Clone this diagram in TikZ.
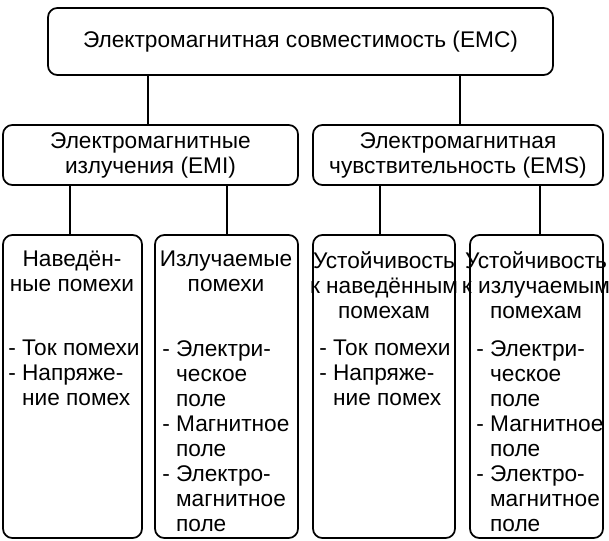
\documentclass[tikz,border=0pt]{standalone}
\usepackage{fontspec}
\setmainfont{Liberation Sans}
\begin{document}
\begin{tikzpicture}[x=0.75pt,y=-0.75pt,
  bx/.style={draw,line width=1.3pt,rounded corners=7pt},
  tx/.style={font=\fontsize{17}{18.8}\selectfont,inner sep=0pt},
  ln/.style={line width=0.8pt}]
\useasboundingbox (0,0) rectangle (609,541);
\node[bx,minimum width=505*0.75pt,minimum height=67*0.75pt] (top) at (300.5,41.5) {};
\node[tx] at (top) {Электромагнитная совместимость (EMC)};
\node[bx,minimum width=295*0.75pt,minimum height=60*0.75pt] (emi) at (150.5,155) {};
\node[tx,align=center] at (emi) {Электромагнитные\\излучения (EMI)};
\node[bx,minimum width=290*0.75pt,minimum height=60*0.75pt] (ems) at (458,155) {};
\node[tx,align=center] at (ems) {Электромагнитная\\чувствительность (EMS)};
\node[bx,minimum width=139*0.75pt,minimum height=303*0.75pt] (b1) at (72.5,386.5) {};
\node[bx,minimum width=143*0.75pt,minimum height=303*0.75pt] (b2) at (226.5,386.5) {};
\node[bx,minimum width=142*0.75pt,minimum height=303*0.75pt] (b3) at (384,386.5) {};
\node[bx,minimum width=133*0.75pt,minimum height=303*0.75pt] (b4) at (536.5,386.5) {};
\draw[ln] (148,0 |- top.south) -- (148,0 |- emi.north);
\draw[ln] (460,0 |- top.south) -- (460,0 |- ems.north);
\draw[ln] (70,0 |- emi.south) -- (70,0 |- b1.north);
\draw[ln] (227,0 |- emi.south) -- (227,0 |- b2.north);
\draw[ln] (380,0 |- ems.south) -- (380,0 |- b3.north);
\draw[ln] (540,0 |- ems.south) -- (540,0 |- b4.north);
% headings
\node[tx,align=center,anchor=north] at (72,251) {Наведён-\\ные помехи};
\node[tx,align=center,anchor=north] at (226,251) {Излучаемые\\помехи};
\node[tx,align=center,anchor=north] at (384,251) {Устойчивость\\к наведённым\\помехам};
\node[tx,align=center,anchor=north] at (536,251) {Устойчивость\\к излучаемым\\помехам};
% lists
\node[tx,align=left,anchor=north west] at (8,340) {- Ток помехи\\- Напряже-\\\phantom{- }ние помех};
\node[tx,align=left,anchor=north west] at (162,340) {- Электри-\\\phantom{- }ческое\\\phantom{- }поле\\- Магнитное\\\phantom{- }поле\\- Электро-\\\phantom{- }магнитное\\\phantom{- }поле};
\node[tx,align=left,anchor=north west] at (319,340) {- Ток помехи\\- Напряже-\\\phantom{- }ние помех};
\node[tx,align=left,anchor=north west] at (476,340) {- Электри-\\\phantom{- }ческое\\\phantom{- }поле\\- Магнитное\\\phantom{- }поле\\- Электро-\\\phantom{- }магнитное\\\phantom{- }поле};
\end{tikzpicture}
\end{document}
